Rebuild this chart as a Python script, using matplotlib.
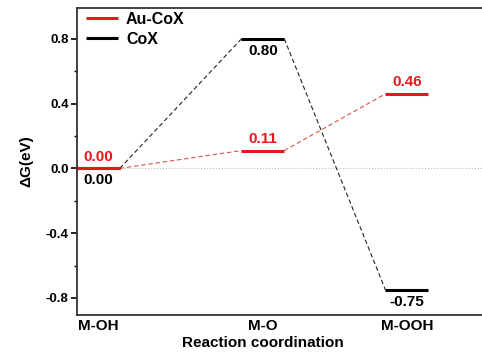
import matplotlib
matplotlib.use("Agg")
import matplotlib.pyplot as plt

steps = ["M-OH", "M-O", "M-OOH"]
au_cox = [0.00, 0.11, 0.46]
cox = [0.00, 0.80, -0.75]
series_names = ["Au-CoX", "CoX"]
yticks = [-0.8, -0.4, 0.0, 0.4, 0.8]

# layout positions of steps along the reaction coordinate
xpos = [1.0, 2.0, 2.875]
hw = 0.13

RED = "#e31a1c"
plt.rcParams["font.family"] = ["Liberation Sans", "DejaVu Sans"]
plt.rcParams["font.weight"] = "bold"

fig = plt.figure(figsize=(4.82, 3.58), dpi=100)
ax = fig.add_axes([77/482, 1-315/358, (500-77)/482, (315-8)/358])
ax.set_xlim(1-hw, 1-hw + (500-77)/164.5)
ax.set_ylim(-0.905, 0.99)

ax.axhline(0, color="#bbbbbb", lw=0.8, ls=":", zorder=0)

def draw(vals, color, dcolor, label):
    for i, (x, v) in enumerate(zip(xpos, vals)):
        ax.plot([x-hw, x+hw], [v, v], color=color, lw=2.2, solid_capstyle="butt",
                label=label if i == 0 else None, zorder=3)
        if i < len(vals)-1:
            ax.plot([x+hw, xpos[i+1]-hw], [v, vals[i+1]], color=dcolor, lw=0.8,
                    ls=(0, (4, 2.5)), zorder=2)

draw(cox, "black", "#222222", series_names[1])
draw(au_cox, RED, "#d9534f", series_names[0])

def lab(x, v, color, up):
    ax.annotate(f"{v:.2f}", (x, v), xytext=(0, 3.5 if up else -3.5), textcoords="offset points",
                ha="center", va="bottom" if up else "top", color=color,
                fontsize=11, fontweight="bold")

lab(xpos[0], au_cox[0], RED, True)
lab(xpos[0], cox[0], "black", False)
lab(xpos[1], cox[1], "black", False)
lab(xpos[1], au_cox[1], RED, True)
lab(xpos[2], au_cox[2], RED, True)
lab(xpos[2], cox[2], "black", False)

h = ax.get_legend_handles_labels()
handles = dict(zip(h[1], h[0]))
ax.legend([handles[n] for n in series_names], series_names, loc="upper left",
          frameon=False, fontsize=11.5, handlelength=2.0, borderaxespad=0.0,
          labelspacing=0.3, handletextpad=0.5, bbox_to_anchor=(0.01, 1.003),
          borderpad=0.3)

ax.set_yticks(yticks)
ax.set_yticklabels([f"{t:.1f}" for t in yticks])
ax.set_yticks([-0.6, -0.2, 0.2, 0.6], minor=True)
ax.tick_params(axis="y", which="major", direction="out", length=4, width=1.2, labelsize=9.5, pad=2)
ax.tick_params(axis="y", which="minor", direction="out", length=2.5, width=1.0)
ax.set_xticks(xpos)
ax.set_xticklabels(steps)
ax.tick_params(axis="x", length=0, labelsize=11, pad=3)
for t in ax.get_xticklabels() + ax.get_yticklabels():
    t.set_fontweight("bold")

for s in ax.spines.values():
    s.set_linewidth(1.3)
    s.set_color("#333333")

ax.set_xlabel("Reaction coordination", fontsize=11, fontweight="bold")
ax.set_ylabel("ΔG(eV)", fontsize=11, fontweight="bold")
ax.xaxis.set_label_coords((263-77)/(500-77), -0.07)
ax.yaxis.set_label_coords((33-77)/(500-77), 0.5)

fig.savefig("out.png", dpi=100)
